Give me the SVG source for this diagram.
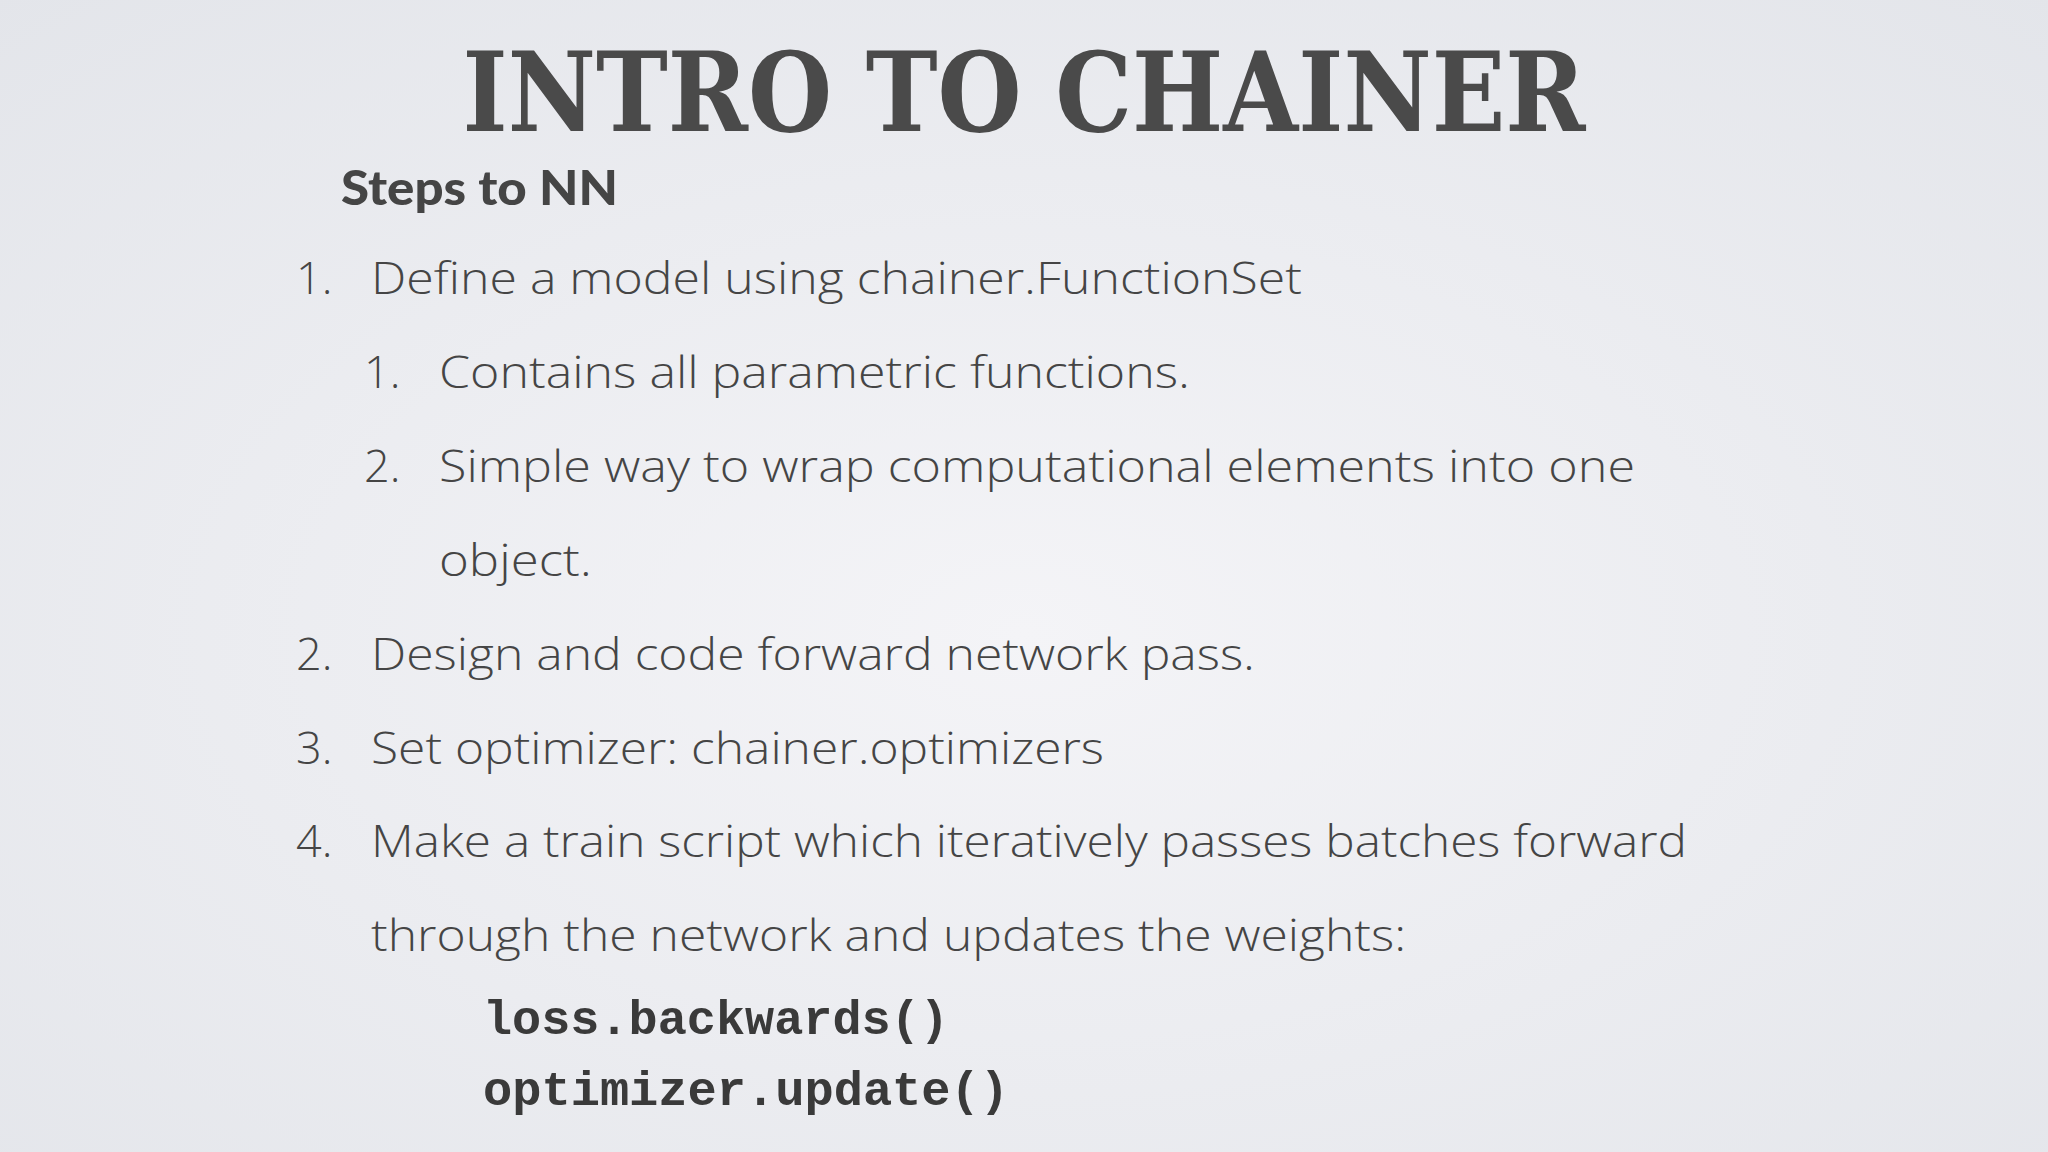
<svg xmlns="http://www.w3.org/2000/svg" width="2048" height="1152" viewBox="0 0 2048 1152">
<defs>
<radialGradient id="bg" cx="0.5" cy="0.55" r="0.75">
<stop offset="0" stop-color="#f4f4f7"/>
<stop offset="1" stop-color="#e3e5ea"/>
</radialGradient>
<style>
.t{font-family:"Open Sans",Lato,sans-serif;font-weight:300;font-size:45px;fill:#454545}
.c{font-family:"Liberation Mono",monospace;font-weight:bold;font-size:49px;fill:#3a3a3a}
</style>
</defs>
<rect width="2048" height="1152" fill="url(#bg)"/>
<text x="1024" y="131" text-anchor="middle" font-family="DejaVu Serif,serif" font-weight="bold" font-size="110" fill="#4a4a4a" textLength="1123" lengthAdjust="spacingAndGlyphs">INTRO TO CHAINER</text>
<text x="341" y="205" font-family="Lato,sans-serif" font-weight="900" font-size="48" fill="#454545" textLength="277" lengthAdjust="spacingAndGlyphs">Steps to NN</text>
<g id="list">
<text class="t" x="296" y="294">1.</text><text class="t" x="371" y="294" textLength="931" lengthAdjust="spacingAndGlyphs">Define a model using chainer.FunctionSet</text>
<text class="t" x="364" y="388">1.</text><text class="t" x="439" y="388" textLength="751" lengthAdjust="spacingAndGlyphs">Contains all parametric functions.</text>
<text class="t" x="364" y="482">2.</text><text class="t" x="439" y="482" textLength="1196" lengthAdjust="spacingAndGlyphs">Simple way to wrap computational elements into one</text>
<text class="t" x="439" y="576" textLength="153" lengthAdjust="spacingAndGlyphs">object.</text>
<text class="t" x="296" y="670">2.</text><text class="t" x="371" y="670" textLength="884" lengthAdjust="spacingAndGlyphs">Design and code forward network pass.</text>
<text class="t" x="296" y="764">3.</text><text class="t" x="371" y="764" textLength="733" lengthAdjust="spacingAndGlyphs">Set optimizer: chainer.optimizers</text>
<text class="t" x="296" y="857">4.</text><text class="t" x="371" y="857" textLength="1316" lengthAdjust="spacingAndGlyphs">Make a train script which iteratively passes batches forward</text>
<text class="t" x="371" y="951" textLength="1035" lengthAdjust="spacingAndGlyphs">through the network and updates the weights:</text>
<text class="c" x="483" y="1034" textLength="466" lengthAdjust="spacingAndGlyphs">loss.backwards()</text>
<text class="c" x="483" y="1105" textLength="526" lengthAdjust="spacingAndGlyphs">optimizer.update()</text>
</g>
</svg>
